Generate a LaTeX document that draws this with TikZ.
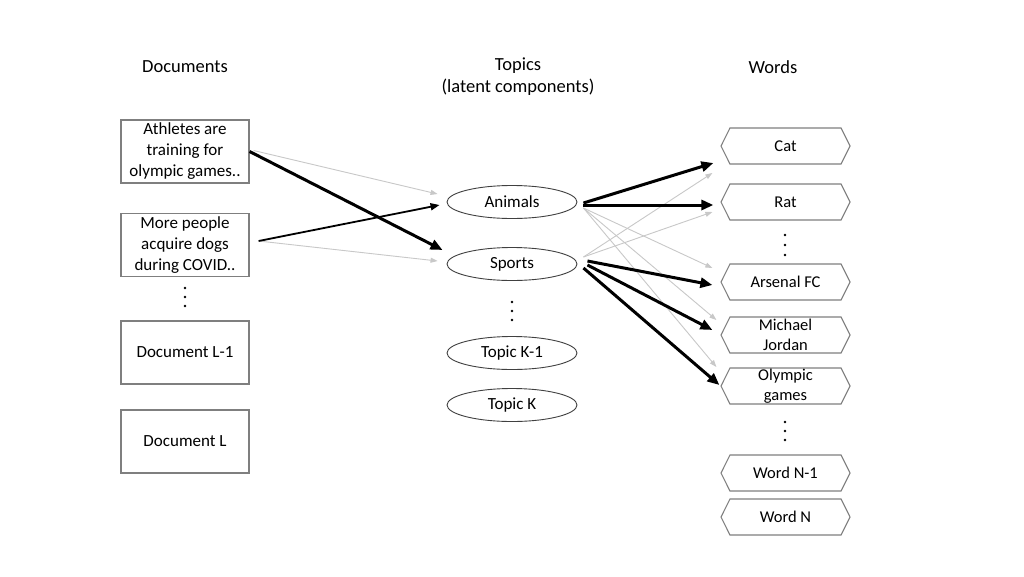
\documentclass[tikz,border=0pt]{standalone}
\usepackage{fontspec}
\setmainfont{Carlito}
\usetikzlibrary{shapes.geometric,shapes.symbols,arrows.meta,calc}
\definecolor{boxgray}{HTML}{7F7F7F}
\definecolor{ellgray}{HTML}{404040}
\definecolor{arrgray}{HTML}{C8C8C8}
\begin{document}
\begin{tikzpicture}[x=1pt,y=-1pt,
  docbox/.style={draw=boxgray, line width=1.2pt, minimum width=128pt, minimum height=63pt, align=center, font=\fontsize{17}{21}\selectfont, inner sep=1pt},
  topic/.style={draw=ellgray, ellipse, line width=0.9pt, minimum width=130pt, minimum height=33pt, inner sep=0pt, font=\fontsize{17}{20}\selectfont},
  word/.style={draw=boxgray, line width=1.1pt, signal, signal to=east and west, signal pointer angle=127, minimum width=129pt, minimum height=36pt, inner sep=0pt, align=center, font=\fontsize{16.5}{19.5}\selectfont},
  header/.style={align=center, font=\fontsize{18.5}{22}\selectfont},
  strong/.style={line width=3pt, -{Triangle[length=12pt,width=10pt]}},
  medium/.style={line width=1.8pt, -{Triangle[length=9pt,width=7pt]}},
  weak/.style={draw=arrgray, line width=0.9pt, -{Triangle[length=7pt,width=5pt]}},
  dotfill/.style={fill=black}
]
\useasboundingbox[fill=white] (0,0) rectangle (1024,576);

% headers
\node[header] (hdoc) at (185,67) {Documents};
\node[header] (htop) at (518,76.5) {Topics\\(latent components)};
\node[header] (hword) at (773,67) {Words};

% documents
\node[docbox] (doc1) at (185,151.5) {Athletes are\\training for\\olympic games..};
\node[docbox] (doc2) at (185,245) {More people\\acquire dogs\\during COVID..};
\node[docbox] (docl1) at (185,352.5) {Document L-1};
\node[docbox] (docl) at (185,441.5) {Document L};
\foreach \yy in {288,297,306} \fill[dotfill] (185,\yy) circle (1.3);

% topics
\node[topic] (animals) at (512,202) {Animals};
\node[topic] (sports) at (512,264) {Sports};
\node[topic] (topk1) at (512,353) {Topic K-1};
\node[topic] (topk) at (512,405) {Topic K};
\foreach \yy in {302,311,320} \fill[dotfill] (512,\yy) circle (1.3);

% words
\node[word] (cat) at (785.5,146) {Cat};
\node[word] (rat) at (785.5,202) {Rat};
\node[word] (arsenal) at (785.5,282) {Arsenal FC};
\node[word] (michael) at (785.5,335) {Michael\\Jordan};
\node[word] (olympic) at (785.5,386) {Olympic\\games};
\node[word] (wordn1) at (785.5,473) {Word N-1};
\node[word] (wordn) at (785.5,517) {Word N};
\foreach \yy in {235,245,255} \fill[dotfill] (785,\yy) circle (1.3);
\foreach \yy in {422,431,440} \fill[dotfill] (785,\yy) circle (1.3);

% documents -> topics
\draw[weak] ($(doc1.east)+(4,-1)$) -- ($(animals.west)+(-9,-8)$);
\draw[weak] ($(doc2.east)+(9,-4)$) -- ($(sports.west)+(-9,-3)$);
\draw[strong] (doc1.east) -- ($(sports.west)+(-4,-14)$);
\draw[medium] ($(doc2.east)+(9,-4)$) -- ($(animals.west)+(-7,3)$);

% topics -> words (weak)
\draw[weak] ($(animals.east)+(6,6)$) -- ($(arsenal.west)+(-8,-14)$);
\draw[weak] ($(animals.east)+(6,6)$) -- ($(michael.west)+(-4,-15)$);
\draw[weak] ($(animals.east)+(6,6)$) -- ($(olympic.west)+(-4,-19)$);
\draw[weak] ($(sports.east)+(6,-7)$) -- ($(cat.west)+(-8,27)$);
\draw[weak] ($(sports.east)+(6,-7)$) -- ($(rat.west)+(-8,10)$);

% topics -> words (strong)
\draw[strong] ($(animals.east)+(6,1)$) -- ($(cat.west)+(-7,17)$);
\draw[strong] ($(animals.east)+(6,3)$) -- ($(rat.west)+(-7,3)$);
\draw[strong] ($(sports.east)+(10,-3)$) -- ($(arsenal.west)+(-8,3)$);
\draw[strong] ($(sports.east)+(10,1)$) -- ($(michael.west)+(-8,-5)$);
\draw[strong] ($(sports.east)+(6,4)$) -- ($(olympic.west)+(-1,-1)$);
\end{tikzpicture}
\end{document}
